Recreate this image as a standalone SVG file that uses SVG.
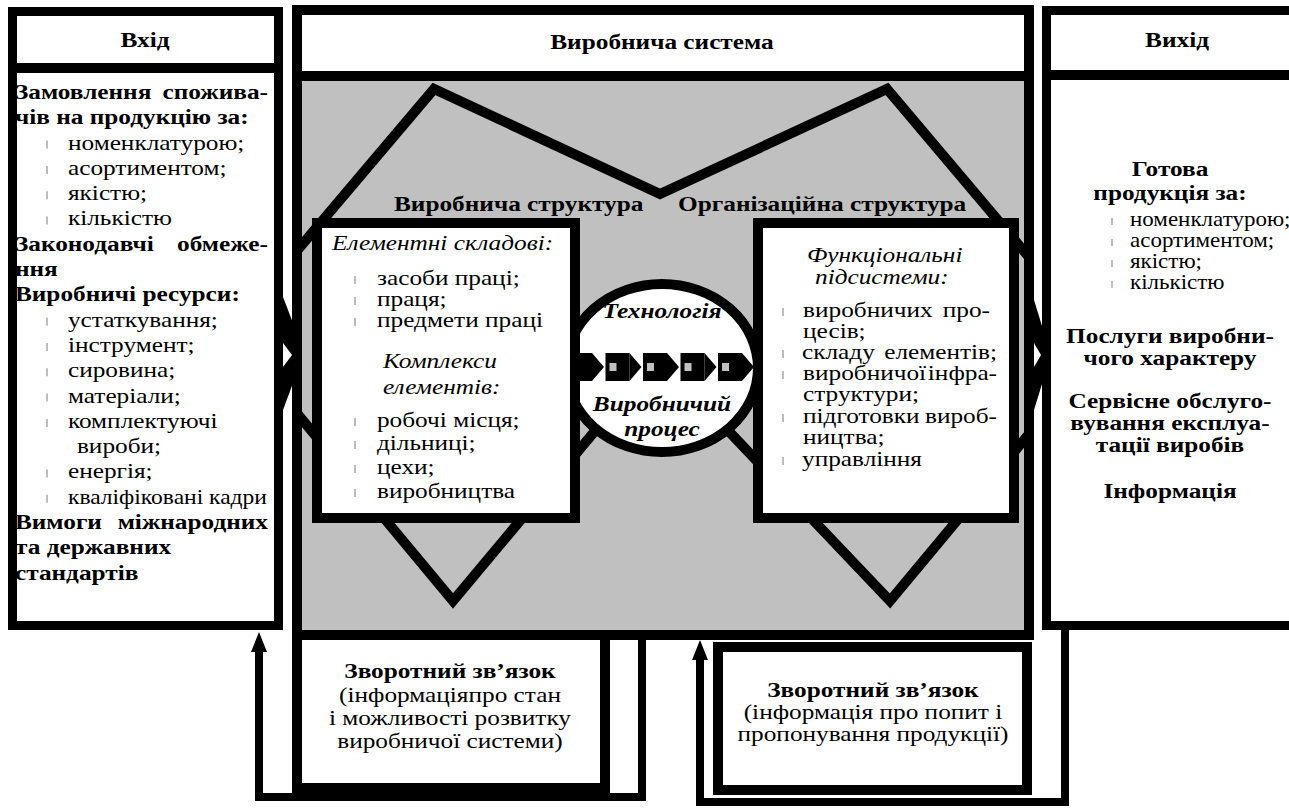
<svg xmlns="http://www.w3.org/2000/svg" width="1289" height="808" viewBox="0 0 1289 808">
  <style>
    text { font-family: "Liberation Serif", "Times New Roman", serif; font-size: 22px; fill: #000; }
    .b { font-weight: bold; }
    .i { font-style: italic; }
    .bi { font-weight: bold; font-style: italic; }
    .c { text-anchor: middle; }
    .e { text-anchor: end; }
    .s { font-size: 20px; }
    .frame { fill: #fff; stroke: #000; stroke-width: 9; }
    .frame10 { fill: #fff; stroke: #000; stroke-width: 10; }
    .band { stroke: #000; stroke-width: 10; }
    .field { fill: #c0c0c0; }
    .link { fill: none; stroke: #000; stroke-width: 10; stroke-linejoin: miter; }
    .loop { fill: none; stroke: #000; stroke-width: 8; stroke-linejoin: miter; }
    .bul { stroke: #9a9a9a; stroke-width: 1.3; }
  </style>
  <defs>
    <clipPath id="fieldClip">
      <rect x="302" y="81" width="722" height="549"/>
    </clipPath>
    <marker id="arrowUp" markerUnits="userSpaceOnUse" viewBox="0 0 20 16" markerWidth="20" markerHeight="16" refX="0" refY="8" orient="auto">
      <path d="M0,0 L20,8 L0,16 Z" fill="#000"/>
    </marker>
    <!-- one step of the process chain: block, gray window, arrow tip -->
    <g id="chainUnit">
      <rect x="0" y="353" width="24" height="28" fill="#000"/>
      <polygon points="24,353 36,367 24,381" fill="#000"/>
      <rect x="4" y="363" width="7" height="8" fill="#c0c0c0"/>
    </g>
  </defs>

  <!-- Input column -->
  <g id="input">
    <rect class="frame" x="12.5" y="11.5" width="266" height="614"/>
    <line class="band" x1="12" y1="68" x2="279" y2="68"/>
    <g class="bullets">
      <line class="bul" x1="47" y1="140.6" x2="47" y2="148.6"/>
      <line class="bul" x1="47" y1="165.9" x2="47" y2="173.9"/>
      <line class="bul" x1="47" y1="191.2" x2="47" y2="199.2"/>
      <line class="bul" x1="47" y1="216.5" x2="47" y2="224.5"/>
      <line class="bul" x1="47" y1="317.7" x2="47" y2="325.7"/>
      <line class="bul" x1="47" y1="343" x2="47" y2="351"/>
      <line class="bul" x1="47" y1="368.3" x2="47" y2="376.3"/>
      <line class="bul" x1="47" y1="393.6" x2="47" y2="401.6"/>
      <line class="bul" x1="47" y1="418.9" x2="47" y2="426.9"/>
      <line class="bul" x1="47" y1="469.5" x2="47" y2="477.5"/>
      <line class="bul" x1="47" y1="494.8" x2="47" y2="502.8"/>
    </g>
    <g transform="scale(1.15 1)">
      <text class="b c" x="126.1" y="47">Вхід</text>
      <text class="b" y="99"><tspan x="13">Замовлення</tspan><tspan class="e" x="233">спожива-</tspan></text>
      <text class="b" x="13" y="124.3">чів на продукцію за:</text>
      <text x="59.1" y="149.6">номенклатурою;</text>
      <text x="59.1" y="174.9">асортиментом;</text>
      <text x="59.1" y="200.2">якістю;</text>
      <text x="59.1" y="225.5">кількістю</text>
      <text class="b" y="250.8"><tspan x="13">Законодавчі</tspan><tspan class="e" x="233">обмеже-</tspan></text>
      <text class="b" x="13" y="276.1">ння</text>
      <text class="b" x="13" y="301.4">Виробничі ресурси:</text>
      <text x="59.1" y="326.7">устаткування;</text>
      <text x="59.1" y="352">інструмент;</text>
      <text x="59.1" y="377.3">сировина;</text>
      <text x="59.1" y="402.6">матеріали;</text>
      <text x="59.1" y="427.9">комплектуючі</text>
      <text x="66.9" y="453.2">вироби;</text>
      <text x="59.1" y="478.5">енергія;</text>
      <text x="59.1" y="503.8" textLength="173" lengthAdjust="spacingAndGlyphs">кваліфіковані кадри</text>
      <text class="b" y="529.1"><tspan x="13">Вимоги</tspan><tspan class="e" x="233">міжнародних</tspan></text>
      <text class="b" x="13" y="554.4">та державних</text>
      <text class="b" x="13" y="579.7">стандартів</text>
    </g>
  </g>

  <!-- Output column -->
  <g id="output">
    <rect class="frame" x="1046.5" y="10.5" width="260" height="615"/>
    <line class="band" x1="1046" y1="75" x2="1289" y2="75"/>
    <g class="bullets">
      <line class="bul" x1="1112" y1="218" x2="1112" y2="225"/>
      <line class="bul" x1="1112" y1="239" x2="1112" y2="246"/>
      <line class="bul" x1="1112" y1="260" x2="1112" y2="267"/>
      <line class="bul" x1="1112" y1="281" x2="1112" y2="288"/>
    </g>
    <g transform="scale(1.15 1)">
      <text class="b c" x="1023.5" y="47">Вихід</text>
      <text class="b c" x="1017.4" y="176">Готова</text>
      <text class="b c" x="1017.4" y="200">продукція за:</text>
      <text class="s" x="982.6" y="226">номенклатурою;</text>
      <text class="s" x="982.6" y="247">асортиментом;</text>
      <text class="s" x="982.6" y="268">якістю;</text>
      <text class="s" x="982.6" y="289">кількістю</text>
      <text class="b c" x="1017.4" y="343">Послуги виробни-</text>
      <text class="b c" x="1017.4" y="365">чого характеру</text>
      <text class="b c" x="1017.4" y="408">Сервісне обслуго-</text>
      <text class="b c" x="1017.4" y="430">вування експлуа-</text>
      <text class="b c" x="1017.4" y="452">тації виробів</text>
      <text class="b c" x="1017.4" y="498">Інформація</text>
    </g>
  </g>

  <!-- Production system frame with shaded field -->
  <g id="system">
    <rect class="frame10" x="297" y="10" width="732" height="625"/>
    <line class="band" x1="297" y1="76" x2="1029" y2="76"/>
    <rect class="field" x="302" y="81" width="722" height="549"/>
    <g transform="scale(1.15 1)">
      <text class="b c" x="575.65" y="49">Виробнича система</text>
      <text class="b" x="342.6" y="211">Виробнича структура</text>
      <text class="b" x="589.6" y="211">Організаційна структура</text>
    </g>
  </g>

  <!-- Connectors -->
  <g id="connectors">
    <g clip-path="url(#fieldClip)">
      <polyline class="link" points="290,259 434,89 660,194 887,89 1034,263"/>
      <polyline class="link" points="290,405 453,601 625,395"/>
      <polyline class="link" points="700,401 890,601 1034,428"/>
    </g>
    <!-- input -> system and system -> output -->
    <polygon points="283,297 293,323 293,383 283,410" fill="#000"/>
    <polygon points="283,343 292,355 283,367" fill="#fff"/>
    <polygon points="1034,300 1042,326 1042,384 1034,410" fill="#000"/>
    <polygon points="1034,343 1041,355 1034,367" fill="#fff"/>
    <!-- feedback loops -->
    <path class="loop" d="M642,636 V797 H259 V652" marker-end="url(#arrowUp)"/>
    <path class="loop" d="M1065,626 V802 H700 V660" marker-end="url(#arrowUp)"/>
  </g>

  <!-- Technology / production process -->
  <g id="technology">
    <ellipse cx="662" cy="368" rx="96" ry="84" fill="#fff" stroke="#000" stroke-width="10"/>
    <use href="#chainUnit" x="568"/>
    <use href="#chainUnit" x="605.5"/>
    <use href="#chainUnit" x="643"/>
    <use href="#chainUnit" x="680.5"/>
    <use href="#chainUnit" x="718"/>
    <g transform="scale(1.15 1)">
      <text class="bi c" x="575.65" y="318">Технологія</text>
      <text class="bi c" x="575.65" y="411">Виробничий</text>
      <text class="bi c" x="575.65" y="436">процес</text>
    </g>
  </g>

  <!-- Production structure -->
  <g id="production-structure">
    <rect class="frame10" x="317" y="223" width="258" height="295"/>
    <g class="bullets">
      <line class="bul" x1="355" y1="276" x2="355" y2="284"/>
      <line class="bul" x1="355" y1="297" x2="355" y2="305"/>
      <line class="bul" x1="355" y1="318" x2="355" y2="326"/>
      <line class="bul" x1="355" y1="418" x2="355" y2="426"/>
      <line class="bul" x1="355" y1="441" x2="355" y2="449"/>
      <line class="bul" x1="355" y1="465" x2="355" y2="473"/>
      <line class="bul" x1="355" y1="489" x2="355" y2="497"/>
    </g>
    <g transform="scale(1.15 1)">
      <text class="i" x="288.7" y="250">Елементні складові:</text>
      <text x="327.8" y="285">засоби праці;</text>
      <text x="327.8" y="306">праця;</text>
      <text x="327.8" y="327">предмети праці</text>
      <text class="i" x="333" y="368">Комплекси</text>
      <text class="i" x="333" y="394">елементів:</text>
      <text x="327.8" y="427">робочі місця;</text>
      <text x="327.8" y="450">дільниці;</text>
      <text x="327.8" y="474">цехи;</text>
      <text x="327.8" y="498">виробництва</text>
    </g>
  </g>

  <!-- Organisational structure -->
  <g id="organisational-structure">
    <rect class="frame10" x="758" y="223" width="256" height="295"/>
    <g class="bullets">
      <line class="bul" x1="783" y1="308" x2="783" y2="316"/>
      <line class="bul" x1="783" y1="350" x2="783" y2="358"/>
      <line class="bul" x1="783" y1="371" x2="783" y2="379"/>
      <line class="bul" x1="783" y1="414" x2="783" y2="422"/>
      <line class="bul" x1="783" y1="457" x2="783" y2="465"/>
    </g>
    <g transform="scale(1.15 1)">
      <text class="i" x="701.7" y="262">Функціональні</text>
      <text class="i" x="708.7" y="284">підсистеми:</text>
      <text y="317"><tspan x="698.3">виробничих</tspan><tspan class="e" x="860.9">про-</tspan></text>
      <text x="698.3" y="338">цесів;</text>
      <text y="359"><tspan x="697.4">складу</tspan><tspan class="e" x="867">елементів;</tspan></text>
      <text y="380"><tspan x="698.3">виробничої</tspan><tspan class="e" x="867">інфра-</tspan></text>
      <text x="698.3" y="401">структури;</text>
      <text y="423"><tspan x="698.3">підготовки</tspan><tspan class="e" x="867">вироб-</tspan></text>
      <text x="698.3" y="444">ництва;</text>
      <text x="697.4" y="466">управління</text>
    </g>
  </g>

  <!-- Feedback: state of the production system -->
  <g id="feedback-system">
    <rect class="frame10" x="297" y="635" width="308" height="153"/>
    <g transform="scale(1.15 1)">
      <text class="b c" x="391.3" y="678">Зворотний зв’язок</text>
      <text class="c" x="391.3" y="702">(інформаціяпро стан</text>
      <text class="c" x="391.3" y="725">і можливості розвитку</text>
      <text class="c" x="391.3" y="748">виробничої системи)</text>
    </g>
  </g>

  <!-- Feedback: market demand -->
  <g id="feedback-market">
    <rect class="frame10" x="718" y="647" width="309" height="143"/>
    <g transform="scale(1.15 1)">
      <text class="b c" x="759.1" y="697">Зворотний зв’язок</text>
      <text class="c" x="759.1" y="719">(інформація про попит і</text>
      <text class="c" x="759.1" y="741">пропонування продукції)</text>
    </g>
  </g>
</svg>
